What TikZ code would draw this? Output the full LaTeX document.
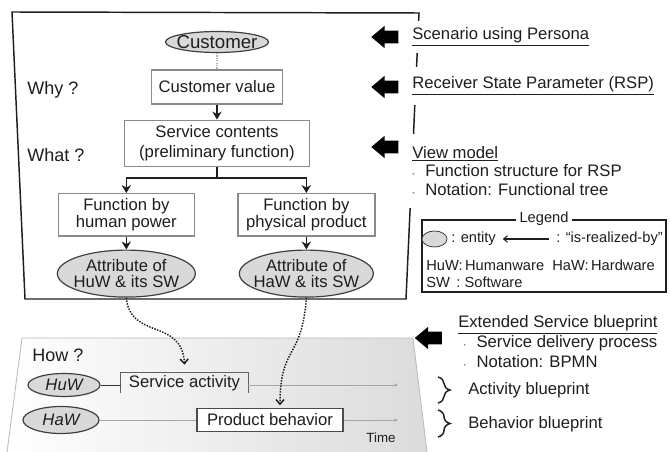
\documentclass[tikz,border=0pt]{standalone}
\usepackage{fontspec}
\setmainfont{Liberation Sans}
\usepackage{xcolor}
\usepackage{tikz}
\usetikzlibrary{shapes.geometric,shapes.arrows,arrows.meta,positioning,decorations.pathreplacing}
\definecolor{ink}{HTML}{1E1E1E}
\definecolor{boxline}{HTML}{8A8A8A}
\definecolor{bulletc}{HTML}{8090B8}
\newcommand{\fsz}[2]{\fontsize{#1}{#2}\selectfont}
\newcommand{\listdot}{\textcolor{bulletc}{\tiny\textbullet}\hspace{8pt}}
\tikzset{
  entity/.style   = {ellipse, draw=ink!85, fill=gray!30, text=ink, line width=0.9pt,
                     inner xsep=-6pt, inner ysep=-3pt, align=center,
                     font=\fsz{12.5pt}{12.5pt}},
  func/.style     = {draw=boxline, fill=white, line width=1.1pt, text=ink,
                     align=center, font=\fsz{12.5pt}{13pt}},
  ask/.style      = {text=ink, font=\fsz{13.5pt}{16pt}, anchor=west, inner sep=0pt},
  note/.style     = {fill=white, text=ink, font=\fsz{12.5pt}{14.5pt}, align=left,
                     anchor=west, inner xsep=3pt, inner ysep=0pt},
  cue/.style      = {single arrow, fill=black, shape border rotate=180, inner sep=4.5pt,
                     minimum height=20.25pt, single arrow head extend=3.75pt,
                     single arrow tip angle=80},
  arr/.style      = {-{Stealth[length=6pt,width=7pt]}, line width=1.2pt, ink},
  realize/.style  = {-{Straight Barb[length=3.5pt,width=6pt]}, densely dotted,
                     line width=1.1pt, ink},
  lane/.style     = {gray!70, line width=0.6pt},
  laneend/.style  = {-{Stealth[length=3pt,width=2.5pt]}, gray!70, line width=0.6pt},
  actbox/.style   = {text=ink, font=\fsz{12.5pt}{14pt}, minimum width=95.25pt,
                     minimum height=15pt, inner sep=0pt},
  legtext/.style  = {text=ink, font=\fsz{11pt}{13pt}, inner sep=0pt},
  blueprint/.style= {decorate, decoration={brace, amplitude=9pt}, line width=1.1pt, ink}
}

\begin{document}
\begin{tikzpicture}[x=0.75pt, y=-0.75pt]
\useasboundingbox (0,0) rectangle (670,452);

% frames: function view (top) and blueprint lanes (bottom)
\draw[line width=1.1pt, ink] (12,12) -- (419,13) -- (406,299) -- (25,299) -- cycle;
\draw[draw=gray!55, line width=0.6pt, left color=white, right color=gray!28]
  (22,338) -- (413,338) -- (428,460) -- (6,460) -- cycle;

% functional tree
\node[entity, font=\fsz{14pt}{14pt}, minimum width=77.25pt, minimum height=15.75pt]
      (cust) at (217,42) {Customer};
\node[func, minimum width=98.25pt, minimum height=25.5pt, below=12pt of cust]
      (cval) {Customer value};
\node[func, font=\fsz{12.5pt}{15pt}, minimum width=138.75pt, minimum height=34.5pt,
      below=11.25pt of cval] (svc) {Service contents\\(preliminary function)};
\node[func, minimum width=102pt, minimum height=31.5pt, below=19.5pt of svc, xshift=-68pt]
      (fhum) {Function by\\human power};
\node[func, minimum width=102.75pt, minimum height=31.5pt, below=19.5pt of svc, xshift=67pt]
      (fphy) {Function by\\physical product};
\node[entity, minimum width=103.5pt, minimum height=35.25pt, below=9.75pt of fhum]
      (att1) {Attribute of\\HuW \& its SW};
\node[entity, minimum width=100.5pt, minimum height=35.25pt, below=9.75pt of fphy]
      (att2) {Attribute of\\HaW \& its SW};

\node[ask] (why)  at (27,90)  {Why ?};
\node[ask] (what) at (27,155) {What ?};
\node[ask] (how)  at (32,355) {How ?};

\draw[densely dotted, gray!60, line width=0.8pt] (cust) -- (cval);
\draw[arr] (cval) -- (svc);
\draw[arr] (svc.south) -- ++(0,11) -| (fhum);
\draw[arr] (svc.south) -- ++(0,11) -| (fphy);
\draw[arr] (fhum) -- (att1);
\draw[arr] (fphy) -- (att2);

% lanes
\node[entity, font=\fsz{12.5pt}{12.5pt}\itshape, minimum width=54pt, minimum height=17.25pt]
      (huw) at (64,385) {HuW};
\node[entity, font=\fsz{12.5pt}{12.5pt}\itshape, minimum width=57pt, minimum height=20.25pt]
      (haw) at (61,420) {HaW};
\node[actbox] (sact) at (184.5,383) {Service activity};
\node[func, font=\fsz{12.5pt}{14pt}, draw=ink!80, line width=0.8pt, inner sep=0pt,
      minimum width=109.5pt, minimum height=17.25pt] (pbeh) at (270,420) {Product behavior};
\node[legtext, font=\fsz{10pt}{12pt}] (time) at (381,438) {Time};
\coordinate (huwEnd) at (398,385);
\coordinate (hawEnd) at (398,420);

\draw[ink!70, line width=0.8pt] (sact.south west) -- (sact.north west)
      -- (sact.north east) -- (sact.south east);
\draw[gray!40!black, line width=0.6pt] (huw.east) -- (huw.east -| sact.west);
\draw[laneend] (huwEnd -| sact.east) -- (huwEnd);
\draw[lane] (haw.east) -- (pbeh.west);
\draw[laneend] (pbeh.east) -- (hawEnd);

% is-realized-by links
\draw[realize] (att1.south) .. controls (130,340) and (182,318) .. ([yshift=6pt]sact.north);
\draw[realize] (att2.south) .. controls (302,360) and (280,345) .. ([xshift=7.5pt,yshift=2pt]pbeh.north);

% right-hand notes
\node[cue] (cueScen) at (388.5,37)  {};
\node[cue] (cueRsp)  at (388.5,87)  {};
\node[cue] (cueView) at (388.5,147) {};
\node[cue] (cueEsb)  at (432,338)   {};
\node[note, minimum height=24pt] (scen) at (408,37) {\underline{Scenario using Persona}};
\node[note, minimum height=29pt] (rsp)  at (408,86) {\underline{Receiver State Parameter (RSP)}};
\node[note, font=\fsz{12.5pt}{14pt}, minimum height=56pt] (view) at (408,171)
      {\underline{View model}\\\listdot Function structure for RSP\\\listdot Notation: Functional tree};
\node[note, font=\fsz{12.5pt}{15pt}, inner xsep=0pt] (esb) at (458,342)
      {\underline{Extended Service blueprint}\\\hspace{4pt}\listdot Service delivery process\\\hspace{4pt}\listdot Notation: BPMN};

\draw[blueprint] (438,377) -- (438,403);
\draw[blueprint] (438,410) -- (438,437);
\node[note, fill=none, inner xsep=0pt] (actbp) at (468,390) {Activity blueprint};
\node[note, fill=none, inner xsep=0pt] (behbp) at (468,424) {Behavior blueprint};

% legend
\node[draw=ink, line width=1.2pt, minimum width=183pt, minimum height=54pt, inner sep=0pt]
      (legend) at (544,256) {};
\node[legtext, fill=white, inner xsep=3pt] (legtitle) at (legend.north) {Legend};
\node[entity, inner sep=0pt, line width=0.6pt, minimum width=18.75pt, minimum height=12pt]
      (legell) at (434.5,239) {};
\node[legtext, anchor=west] (legent)  at (451,239) {: entity};
\node[legtext, anchor=east] (legreal) at (663,239) {: “is-realized-by”};
\draw[{Straight Barb[length=3pt,width=5pt]}-, line width=0.8pt, ink,
      shorten <=5pt, shorten >=5pt] (legent) -- (legreal);
\node[legtext, anchor=west] (leghw) at (426,265) {HuW:\,Humanware\ \ HaW:\,Hardware};
\node[legtext, anchor=west] (legsw) at (426,282) {SW \,: Software};
\end{tikzpicture}
\end{document}
